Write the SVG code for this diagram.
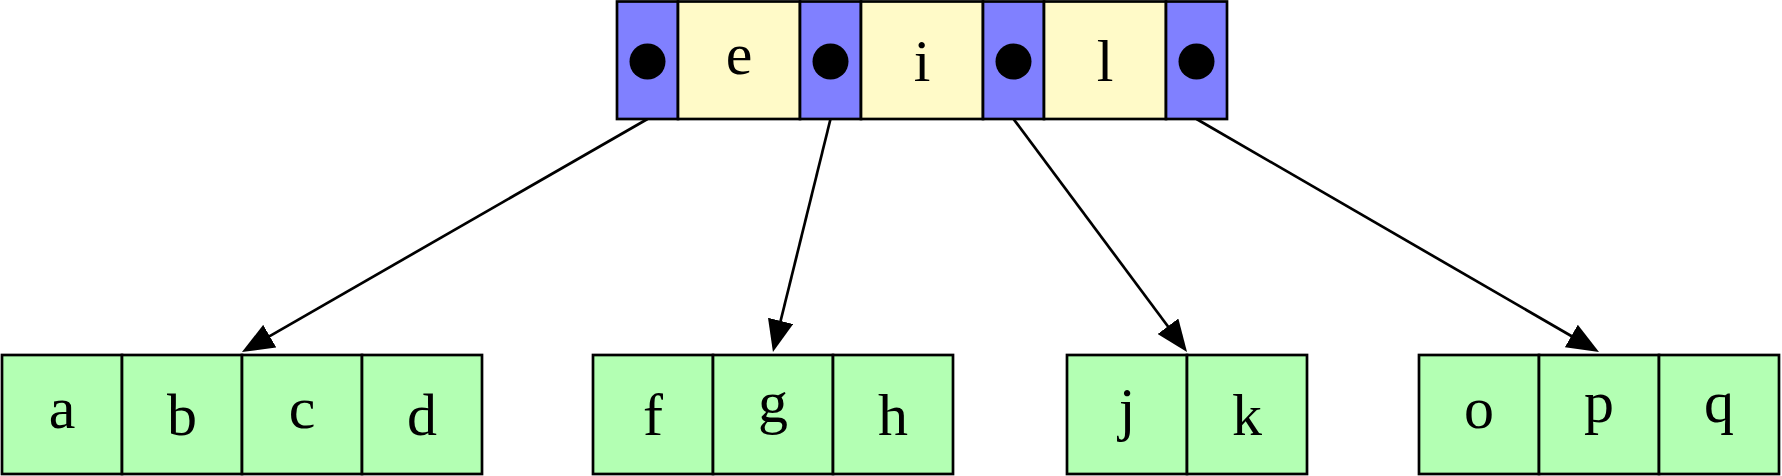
<svg xmlns="http://www.w3.org/2000/svg" width="1782" height="476" viewBox="0 0 1782 476">
<style>
.c{stroke:#000;stroke-width:2.7}
.p{fill:#8080ff}
.k{fill:#fffac8}
.g{fill:#b3ffb3}
.d{fill:#000}
.t{font-family:"Liberation Serif","Times New Roman",serif;font-size:60px;fill:#000;text-anchor:middle}
.e{stroke:#000;stroke-width:2.7;fill:none;marker-end:url(#ah)}
</style>
<defs>
<marker id="ah" viewBox="0 -13 32 26" refX="3" refY="0" markerWidth="32" markerHeight="26" markerUnits="userSpaceOnUse" orient="auto">
<path d="M0,-13 L32,0 L0,13 z" fill="#000"/>
</marker>
</defs>
<rect width="1782" height="476" fill="#fff"/>
<g id="edges">
<line class="e" x1="647.5" y1="119" x2="267.1" y2="337.6"/>
<line class="e" x1="830.5" y1="119" x2="779.9" y2="323.8"/>
<line class="e" x1="1013.5" y1="119" x2="1169.7" y2="328.7"/>
<line class="e" x1="1196.5" y1="119" x2="1573.9" y2="337.5"/>
</g>
<g id="root">
<rect class="c p" x="617" y="1.5" width="61" height="117.5"/>
<rect class="c k" x="678" y="1.5" width="122" height="117.5"/>
<rect class="c p" x="800" y="1.5" width="61" height="117.5"/>
<rect class="c k" x="861" y="1.5" width="122" height="117.5"/>
<rect class="c p" x="983" y="1.5" width="61" height="117.5"/>
<rect class="c k" x="1044" y="1.5" width="122" height="117.5"/>
<rect class="c p" x="1166" y="1.5" width="61" height="117.5"/>
<circle class="d" cx="647.5" cy="61.5" r="18"/>
<circle class="d" cx="830.5" cy="61.5" r="18"/>
<circle class="d" cx="1013.5" cy="61.5" r="18"/>
<circle class="d" cx="1196.5" cy="61.5" r="18"/>
<text class="t" x="739" y="73.5">e</text>
<text class="t" x="922" y="80.5">i</text>
<text class="t" x="1105" y="80.5">l</text>
</g>
<g id="leaf1">
<rect class="c g" x="2" y="355" width="120" height="119"/>
<rect class="c g" x="122" y="355" width="120" height="119"/>
<rect class="c g" x="242" y="355" width="120" height="119"/>
<rect class="c g" x="362" y="355" width="120" height="119"/>
<text class="t" x="62" y="428">a</text>
<text class="t" x="182" y="435">b</text>
<text class="t" x="302" y="428">c</text>
<text class="t" x="422" y="435">d</text>
</g>
<g id="leaf2">
<rect class="c g" x="593" y="355" width="120" height="119"/>
<rect class="c g" x="713" y="355" width="120" height="119"/>
<rect class="c g" x="833" y="355" width="120" height="119"/>
<text class="t" x="653" y="435">f</text>
<text class="t" x="773" y="421.5">g</text>
<text class="t" x="893" y="435">h</text>
</g>
<g id="leaf3">
<rect class="c g" x="1067" y="355" width="120" height="119"/>
<rect class="c g" x="1187" y="355" width="120" height="119"/>
<text class="t" x="1127" y="428.5">j</text>
<text class="t" x="1247" y="435">k</text>
</g>
<g id="leaf4">
<rect class="c g" x="1419" y="355" width="120" height="119"/>
<rect class="c g" x="1539" y="355" width="120" height="119"/>
<rect class="c g" x="1659" y="355" width="120" height="119"/>
<text class="t" x="1479" y="428">o</text>
<text class="t" x="1599" y="421.5">p</text>
<text class="t" x="1719" y="421.5">q</text>
</g>
</svg>
